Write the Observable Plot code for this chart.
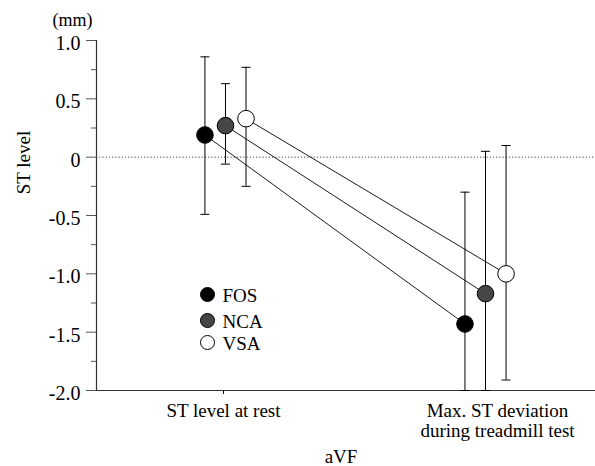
<!DOCTYPE html>
<html>
<head>
<meta charset="utf-8">
<script src="https://cdn.jsdelivr.net/npm/d3@7"></script>
<script src="https://cdn.jsdelivr.net/npm/@observablehq/plot@0.6"></script>
<style>
  html, body { margin: 0; padding: 0; background: white; }
</style>
</head>
<body>
<div id="chart"></div>
<script>
// ---- data ----
const conditions = ["ST level at rest", "Max. ST deviation\nduring treadmill test"];
const series = ["FOS", "NCA", "VSA"];
const meanFOS = [0.19, -1.43];
const meanNCA = [0.27, -1.17];
const meanVSA = [0.33, -1.00];
const upperFOS = [0.86, -0.30];
const upperNCA = [0.63, 0.05];
const upperVSA = [0.77, 0.10];
const lowerFOS = [-0.49, -2.0];
const lowerNCA = [-0.06, -2.0];
const lowerVSA = [-0.25, -1.91];
const yTicks = [-2, -1.5, -1, -0.5, 0, 0.5, 1];
const yMinorTicks = [-1.75, -1.25, -0.75, -0.25, 0.25, 0.75];

// ---- table ----
const means = {FOS: meanFOS, NCA: meanNCA, VSA: meanVSA};
const uppers = {FOS: upperFOS, NCA: upperNCA, VSA: upperVSA};
const lowers = {FOS: lowerFOS, NCA: lowerNCA, VSA: lowerVSA};
const spread = 0.079;
const table = [];
series.forEach((s, si) => {
  conditions.forEach((c, ci) => {
    table.push({series: s, cond: c, x: ci + (si - 1) * spread,
      mean: means[s][ci], hi: uppers[s][ci], lo: lowers[s][ci]});
  });
});

const fills = {FOS: "black", NCA: "url(#stipple)", VSA: "white"};
const capSymbol = {
  draw(ctx, size) {
    const r = Math.sqrt(size / Math.PI);
    ctx.moveTo(-r, 0); ctx.lineTo(r, 0);
  }
};

const legendRows = [
  {s: "FOS", dy: 254},
  {s: "NCA", dy: 280},
  {s: "VSA", dy: 302}
];

const chart = Plot.plot({
  width: 595,
  height: 466,
  marginLeft: 96,
  marginRight: 0,
  marginTop: 40,
  marginBottom: 76,
  style: {fontFamily: "'Liberation Serif', 'DejaVu Serif', serif", fontSize: "18px", background: "white", color: "black"},
  x: {domain: [-0.496, 1.423], axis: null},
  y: {domain: [-2, 1], axis: null},
  marks: [
    // zero reference line
    Plot.ruleY([0], {stroke: "#444", strokeDasharray: "1.2,2", strokeWidth: 1}),
    // axes lines
    Plot.ruleX([-0.496], {y1: -2, y2: 1, stroke: "#333", strokeWidth: 1.2}),
    Plot.ruleY([-2], {stroke: "#333", strokeWidth: 1.2}),
    // y axis
    Plot.axisY(yTicks, {anchor: "left", tickSize: 10, tickPadding: 6, fontSize: 20,
      tickFormat: d => d === 0 ? "0" : d.toFixed(1), stroke: "#555", label: null, textStroke: "none"}),
    Plot.axisY(yMinorTicks, {anchor: "left", tickSize: 5, tickFormat: null, text: null, stroke: "#555", label: null}),
    // x axis labels
    Plot.axisX([0], {anchor: "bottom", tickSize: 4, tickPadding: 9, fontSize: 19,
      tickFormat: () => conditions[0], label: null, dx: -2}),
    Plot.axisX([1], {anchor: "bottom", tickSize: 0, tickPadding: 12, fontSize: 19, lineHeight: 1.05,
      tickFormat: () => conditions[1], label: null, dx: 12}),
    Plot.text(["aVF"], {frameAnchor: "bottom", dy: 72, dx: -5, lineAnchor: "bottom", fontSize: 19}),
    Plot.text(["ST level"], {frameAnchor: "left", rotate: -90, dx: -73, dy: -53, textAnchor: "middle", lineAnchor: "middle", fontSize: 19}),
    Plot.text(["(mm)"], {frameAnchor: "top-left", dx: -24, dy: -20, textAnchor: "middle", lineAnchor: "middle", fontSize: 18}),
    // connecting lines
    Plot.line(table, {x: "x", y: "mean", z: "series", stroke: "black", strokeWidth: 0.9}),
    // error bars
    Plot.ruleX(table, {x: "x", y1: "lo", y2: "hi", stroke: "black", strokeWidth: 1}),
    Plot.dot(table, {x: "x", y: "hi", symbol: capSymbol, r: 4.5, stroke: "black", strokeWidth: 1}),
    Plot.dot(table, {x: "x", y: "lo", symbol: capSymbol, r: 4.5, stroke: "black", strokeWidth: 1}),
    // means
    Plot.dot(table, {x: "x", y: "mean", r: 8.3, fill: d => fills[d.series], stroke: "black", strokeWidth: 1}),
    // legend
    ...legendRows.map(row => Plot.dot([row.s], {frameAnchor: "top-left", dx: 111, dy: row.dy, r: 7,
      fill: fills[row.s], stroke: "black", strokeWidth: 1})),
    ...legendRows.map(row => Plot.text([row.s], {frameAnchor: "top-left", dx: 126, dy: row.dy + 1,
      textAnchor: "start", lineAnchor: "middle", fontSize: 19}))
  ]
});

// nudge y tick labels slightly below their ticks, as in the reference
d3.select(chart).selectAll("g[aria-label='y-axis tick label'] text").attr("dy", "0.15em");

// stipple pattern for NCA
const svg = d3.select(chart);
const defs = svg.insert("defs", ":first-child");
const pat = defs.append("pattern").attr("id", "stipple").attr("patternUnits", "userSpaceOnUse")
  .attr("width", 2).attr("height", 2);
pat.append("rect").attr("width", 2).attr("height", 2).attr("fill", "#2a2a2a");
pat.append("rect").attr("x", 0).attr("y", 0).attr("width", 1).attr("height", 1).attr("fill", "#9a9a9a");

document.getElementById("chart").appendChild(chart);
</script>
</body>
</html>
